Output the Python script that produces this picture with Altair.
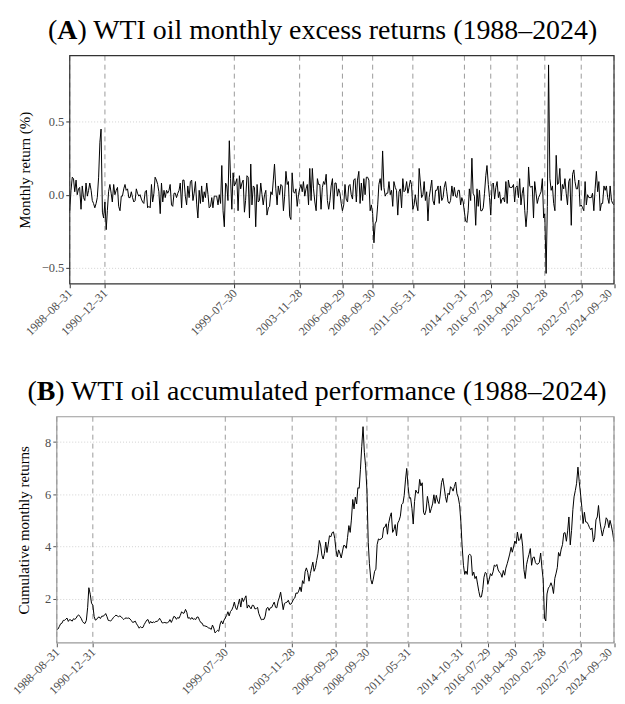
import altair as alt
import pandas as pd

TICK_DATES = ["1988-08-31", "1990-12-31", "1999-07-30", "2003-11-28", "2006-09-29",
              "2008-09-30", "2011-05-31", "2014-10-31", "2016-07-29", "2018-04-30",
              "2020-02-28", "2022-07-29", "2024-09-30"]

# Monthly excess returns (fraction), Aug 1988 .. Sep 2024
RETURNS = [
    -0.11, 0.03, 0.12, 0.11, 0.02,
    0.10, 0.00, 0.04, 0.05, -0.10, 0.06, -0.02, -0.04, 0.08, -0.01, 0.03, 0.08,
    0.03, -0.04, -0.06, -0.09, -0.06, -0.02, 0.12, 0.36, 0.45, -0.12, -0.16, -0.05,
    -0.24, -0.11, 0.02, 0.07, 0.01, -0.05, 0.07, 0.00, 0.03, 0.05, -0.08, -0.11,
    -0.01, -0.01, 0.04, 0.07, 0.03, 0.04, -0.02, -0.02, 0.02, -0.02, -0.05, -0.04,
    0.04, 0.01, -0.01, 0.00, -0.03, -0.05, -0.06, 0.02, 0.03, -0.09, -0.08, -0.09,
    0.07, -0.05, 0.01, 0.12, 0.10, 0.07, 0.02, -0.13, 0.08, -0.05, 0.03, -0.02,
    0.03, 0.01, 0.03, 0.07, -0.07, -0.08, 0.01, 0.01, -0.02, 0.01, 0.03, 0.08,
    -0.09, 0.10, 0.10, -0.01, -0.07, 0.06, -0.02, 0.09, 0.10, -0.04, 0.01, 0.09,
    -0.07, -0.16, 0.03, -0.06, 0.06, -0.05, 0.02, -0.02, 0.08, 0.00, -0.09, -0.08,
    -0.02, -0.09, -0.01, -0.01, -0.01, -0.07, 0.00, -0.06, 0.20, -0.11, -0.22, 0.08,
    0.06, -0.04, 0.37, 0.11, -0.10, 0.15, 0.06, 0.08, 0.11, -0.11, 0.13, 0.04,
    0.08, 0.10, -0.12, -0.04, 0.13, 0.12, -0.16, 0.21, -0.07, 0.06, 0.05, -0.22,
    0.07, -0.05, -0.04, 0.08, 0.00, -0.07, 0.00, 0.03, -0.14, -0.09, -0.08, 0.02,
    0.00, 0.10, 0.21, 0.04, -0.07, 0.06, 0.00, 0.07, 0.06, -0.11, -0.01, 0.16,
    0.07, 0.09, -0.15, -0.17, 0.15, 0.02, 0.01, 0.04, -0.08, 0.00, 0.04, 0.07,
    0.02, 0.09, -0.01, 0.04, 0.07, -0.07, 0.18, -0.04, 0.18, 0.04, -0.05, -0.11,
    0.11, 0.07, 0.07, -0.10, 0.05, 0.09, 0.07, 0.14, -0.04, -0.10, -0.04, 0.06,
    0.11, -0.10, 0.08, 0.08, -0.01, 0.04, 0.01, -0.06, -0.11, -0.07, 0.07, -0.03,
    -0.05, 0.06, 0.07, 0.00, -0.03, 0.10, 0.11, -0.05, 0.10, 0.16, -0.06, 0.08,
    -0.04, 0.11, 0.00, 0.12, 0.12, 0.10, -0.11, -0.07, -0.13, -0.33, -0.20, -0.18,
    -0.07, 0.07, 0.11, 0.03, 0.30, 0.05, -0.01, 0.01, 0.01, 0.09, 0.00, 0.03,
    -0.08, 0.09, 0.05, 0.03, -0.14, 0.02, 0.04, -0.09, 0.11, 0.02, 0.03, 0.09,
    0.01, 0.05, 0.10, 0.07, -0.10, -0.07, 0.00, -0.07, -0.11, 0.18, 0.08, -0.02,
    0.00, 0.09, -0.04, 0.02, -0.18, -0.02, 0.04, 0.10, -0.04, -0.07, 0.03, 0.03,
    0.06, -0.06, 0.06, -0.04, -0.02, 0.05, 0.09, 0.02, -0.05, -0.06, -0.04, 0.06,
    -0.01, 0.05, -0.01, -0.02, 0.03, 0.03, -0.07, -0.02, -0.05, -0.12, -0.18, -0.19,
    -0.11, 0.04, -0.04, 0.25, 0.01, -0.01, -0.21, 0.04, -0.08, 0.03, -0.11, -0.11,
    -0.09, 0.01, 0.13, 0.20, 0.07, -0.02, -0.14, 0.07, 0.08, -0.03, 0.05, 0.09,
    -0.02, 0.02, -0.06, -0.03, -0.02, -0.05, 0.09, -0.06, 0.10, 0.05, 0.05, 0.05,
    0.07, -0.05, 0.05, 0.06, -0.02, 0.11, -0.07, 0.01, 0.05, -0.11, -0.22, -0.11,
    0.19, 0.06, 0.05, 0.06, -0.16, 0.09, 0.01, -0.06, -0.02, 0.00, 0.02, 0.11,
    -0.16, -0.13, -0.54, -0.08, 0.89, 0.11, 0.03, 0.06, -0.06, -0.11, 0.27, 0.07,
    0.08, 0.18, -0.04, 0.07, 0.04, 0.11, 0.01, -0.07, 0.09, 0.11, -0.21, 0.14,
    0.17, 0.09, 0.04, 0.04, 0.10, -0.08, -0.07, -0.09, -0.11, 0.09, -0.07, 0.00,
    -0.02, -0.02, -0.02, 0.01, -0.11, 0.04, 0.16, 0.02, 0.09, -0.11, -0.06, -0.06,
    0.06, 0.03, 0.06, -0.02, -0.06, 0.06, -0.04, -0.06, -0.07,
]

# Cumulative monthly returns, Aug 1988 .. Sep 2024
CUMULATIVE = [
    0.82, 0.84, 0.94, 1.04, 1.06,
    1.17, 1.17, 1.21, 1.26, 1.13, 1.20, 1.18, 1.14, 1.23, 1.21, 1.25, 1.34,
    1.38, 1.32, 1.25, 1.13, 1.07, 1.05, 1.17, 1.67, 2.42, 2.17, 1.83, 1.75,
    1.32, 1.18, 1.20, 1.28, 1.30, 1.24, 1.33, 1.33, 1.36, 1.43, 1.32, 1.17,
    1.16, 1.15, 1.20, 1.28, 1.32, 1.37, 1.34, 1.31, 1.34, 1.31, 1.25, 1.20,
    1.25, 1.26, 1.25, 1.26, 1.22, 1.16, 1.09, 1.11, 1.14, 1.04, 0.96, 0.87,
    0.93, 0.89, 0.90, 1.01, 1.10, 1.18, 1.20, 1.05, 1.13, 1.07, 1.11, 1.09,
    1.13, 1.13, 1.17, 1.25, 1.16, 1.07, 1.08, 1.09, 1.07, 1.08, 1.11, 1.20,
    1.09, 1.20, 1.32, 1.30, 1.21, 1.28, 1.25, 1.36, 1.50, 1.44, 1.45, 1.59,
    1.48, 1.25, 1.28, 1.21, 1.28, 1.21, 1.23, 1.20, 1.30, 1.29, 1.17, 1.08,
    1.06, 0.96, 0.96, 0.94, 0.93, 0.87, 0.87, 0.82, 0.99, 0.88, 0.69, 0.74,
    0.79, 0.75, 1.03, 1.15, 1.03, 1.18, 1.26, 1.36, 1.50, 1.34, 1.51, 1.57,
    1.69, 1.87, 1.65, 1.58, 1.78, 1.99, 1.68, 2.03, 1.89, 2.01, 2.11, 1.64,
    1.76, 1.68, 1.61, 1.75, 1.74, 1.61, 1.62, 1.67, 1.44, 1.30, 1.19, 1.21,
    1.21, 1.33, 1.61, 1.67, 1.55, 1.65, 1.66, 1.77, 1.87, 1.67, 1.65, 1.91,
    2.06, 2.25, 1.90, 1.58, 1.82, 1.85, 1.87, 1.94, 1.79, 1.79, 1.87, 1.99,
    2.03, 2.22, 2.20, 2.29, 2.45, 2.27, 2.69, 2.58, 3.04, 3.18, 3.01, 2.67,
    2.96, 3.18, 3.40, 3.05, 3.19, 3.47, 3.72, 4.23, 4.06, 3.67, 3.52, 3.74,
    4.17, 3.77, 4.09, 4.41, 4.37, 4.53, 4.56, 4.31, 3.86, 3.60, 3.87, 3.75,
    3.56, 3.79, 4.04, 4.03, 3.93, 4.34, 4.80, 4.54, 5.01, 5.80, 5.44, 5.89,
    5.63, 6.25, 6.23, 6.96, 7.82, 8.59, 7.61, 7.09, 6.17, 4.16, 3.34, 2.74,
    2.56, 2.75, 3.05, 3.13, 4.07, 4.29, 4.26, 4.29, 4.33, 4.72, 4.74, 4.87,
    4.47, 4.89, 5.14, 5.29, 4.54, 4.64, 4.84, 4.41, 4.90, 4.99, 5.16, 5.61,
    5.66, 5.95, 6.55, 6.99, 6.30, 5.85, 5.87, 5.45, 4.86, 5.72, 6.16, 6.06,
    6.04, 6.57, 6.32, 6.44, 5.31, 5.21, 5.40, 5.92, 5.66, 5.29, 5.45, 5.63,
    5.98, 5.65, 5.96, 5.74, 5.64, 5.93, 6.45, 6.61, 6.28, 5.91, 5.69, 6.04,
    5.98, 6.29, 6.23, 6.12, 6.30, 6.47, 6.02, 5.89, 5.60, 4.94, 4.06, 3.28,
    2.93, 3.06, 2.93, 3.66, 3.70, 3.65, 2.89, 3.02, 2.77, 2.86, 2.56, 2.27,
    2.06, 2.07, 2.35, 2.82, 3.01, 2.96, 2.55, 2.74, 2.96, 2.88, 3.03, 3.29,
    3.24, 3.31, 3.10, 3.02, 2.96, 2.82, 3.08, 2.90, 3.17, 3.34, 3.52, 3.71,
    3.97, 3.78, 3.98, 4.21, 4.11, 4.55, 4.22, 4.28, 4.49, 4.01, 3.12, 2.77,
    3.30, 3.51, 3.69, 3.92, 3.28, 3.57, 3.60, 3.38, 3.32, 3.33, 3.39, 3.75,
    3.17, 2.75, 1.26, 1.15, 2.18, 2.41, 2.47, 2.61, 2.47, 2.20, 2.78, 2.98,
    3.20, 3.77, 3.63, 3.90, 4.07, 4.51, 4.53, 4.20, 4.60, 5.13, 4.06, 4.62,
    5.41, 5.90, 6.15, 6.42, 7.04, 6.49, 6.05, 5.50, 4.88, 5.31, 4.94, 4.93,
    4.84, 4.72, 4.64, 4.71, 4.18, 4.33, 5.02, 5.13, 5.57, 4.97, 4.66, 4.40,
    4.66, 4.80, 5.10, 5.02, 4.72, 5.00, 4.78, 4.52, 4.18,
]

TITLE_A = ["(", "A", ") WTI oil monthly excess returns (1988\u20132024)"]
TITLE_B = ["(", "B", ") WTI oil accumulated performance (1988\u20132024)"]

try:
    dates = pd.date_range("1988-08-31", "2024-09-30", freq="BME")
except ValueError:
    dates = pd.date_range("1988-08-31", "2024-09-30", freq="BM")

df = pd.DataFrame({"date": dates.strftime("%Y-%m-%d"), "ret": RETURNS, "cum": CUMULATIVE})
ticks_df = pd.DataFrame({"date": TICK_DATES})
one = pd.DataFrame({"k": [0]})

FONT = "Liberation Serif"
TFS = 28          # title font size
W = 559.5         # group width (both panels)
SHIFT_A = 13.0    # panel A plot starts this far right of panel B plot
H_A, H_B = 229, 227
LAST_TICK_MS = 1727654400000  # 2024-09-30 UTC


def dt(s):
    return alt.DateTime(year=int(s[:4]), month=int(s[5:7]), date=int(s[8:10]), utc=True)


tick_vals = [dt(s) for s in TICK_DATES]
DOMAIN = [dt(TICK_DATES[0]), dt(TICK_DATES[-1])]


def xscale(start):
    return alt.Scale(type="utc", domain=DOMAIN, nice=False, range=[start, W])


def xaxis(tick_color):
    return alt.Axis(values=tick_vals, labelExpr="utcFormat(datum.value, '%Y\u2013%m\u2013%d')",
                    labelAngle=-45, labelAlign="right", labelBaseline="middle",
                    labelOffset={"condition": {"test": f"datum.value >= {LAST_TICK_MS - 86400000}",
                                               "value": -4.5}, "value": 0},
                    labelFont=FONT, labelFontSize=12, labelColor="#4d4d4d",
                    labelPadding=3, labelOverlap=False, labelFlush=False,
                    tickSize=4, tickColor=tick_color, domain=False, grid=False, title=None)


def yaxis(title, values, fmt, tick_color, tpad, offset):
    return alt.Axis(values=values, format=fmt, title=title, offset=offset,
                    labelFont=FONT, labelFontSize=12.5, labelColor="#4d4d4d", labelPadding=2,
                    tickSize=4, tickColor=tick_color, domain=False,
                    grid=True, gridColor="#c8c8c8", gridDash=[1, 2], gridWidth=0.8,
                    titleFont=FONT, titleFontSize=15, titleFontWeight="normal",
                    titleColor="black", titlePadding=tpad)


def title_layers(parts, x0):
    w_open = 0.333 * TFS
    w_letter = 0.722 * TFS if parts[1] == "A" else 0.667 * TFS
    xs = [x0, x0 + w_open, x0 + w_open + w_letter]
    weights = ["normal", "bold", "normal"]
    out = []
    for p, xv, wt in zip(parts, xs, weights):
        out.append(alt.Chart(one).mark_text(
            align="left", baseline="alphabetic", font=FONT, fontSize=TFS,
            fontWeight=wt, color="black").encode(
            x=alt.value(xv), y=alt.value(-17), text=alt.value(p)))
    return out


def panel(field, ydomain, yvals, yfmt, ytitle, frame_color, tick_color, tpad,
          title_parts, title_x, start, height):
    xs = xscale(start)
    rules = alt.Chart(ticks_df).mark_rule(color="#9a9a9a", strokeDash=[5, 4], strokeWidth=1).encode(
        x=alt.X("date:T", scale=xs, axis=xaxis(tick_color)))
    line = alt.Chart(df).mark_line(color="black", strokeWidth=1).encode(
        x=alt.X("date:T", scale=xs, axis=xaxis(tick_color)),
        y=alt.Y(f"{field}:Q", scale=alt.Scale(domain=ydomain, nice=False, zero=False),
                axis=yaxis(ytitle, yvals, yfmt, tick_color, tpad, -start)))
    frame = alt.Chart(one).mark_rect(filled=False, stroke=frame_color, strokeWidth=1.2).encode(
        x=alt.value(start), x2=alt.value(W), y=alt.value(0), y2=alt.value(height))
    return alt.layer(rules, line, frame, *title_layers(title_parts, title_x)).properties(
        width=W, height=height,
        view=alt.ViewBackground(stroke="transparent"))


panel_a = panel("ret", [-0.611, 0.953], [-0.5, 0.0, 0.5], ".1f", "Monthly return (%)",
                "#333333", "#333333", 9, TITLE_A, -8.8, SHIFT_A, H_A)
panel_b = panel("cum", [0.31, 8.97], [2, 4, 6, 8], "d", "Cumulative monthly returns",
                "#9a9a9a", "#555555", 13, TITLE_B, -29.5, 0, H_B)

chart = alt.vconcat(panel_a, panel_b, spacing=38.5).properties(
    padding={"left": 1, "top": 6.5, "right": 0, "bottom": 0}
).configure(background="white")

chart.save("out.html", embed_options={"renderer": "svg", "actions": False})
